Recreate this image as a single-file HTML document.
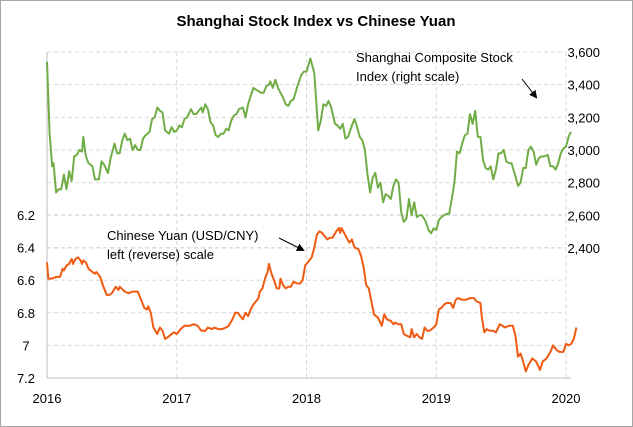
<!DOCTYPE html>
<html><head><meta charset="utf-8"><style>
body{margin:0;background:#fff}
svg{display:block;font-family:"Liberation Sans",Calibri,sans-serif}
</style></head><body>
<svg id="chart" width="633" height="427" viewBox="0 0 633 427">
<rect x="0.5" y="0.5" width="632" height="426" fill="#fff" stroke="#a6a6a6"/>
<text x="316" y="26" text-anchor="middle" font-size="15" font-weight="bold" fill="#000">Shanghai Stock Index vs Chinese Yuan</text>
<g id="grid"></g><g id="axes"></g><g id="series"></g>
<text x="356" y="62" font-size="13" fill="#000">Shanghai Composite Stock</text>
<text x="356" y="81" font-size="13" fill="#000">Index (right scale)</text>
<text x="107" y="240" font-size="13" fill="#000">Chinese Yuan (USD/CNY)</text>
<text x="107" y="259" font-size="13" fill="#000">left (reverse) scale</text>
<defs><marker id="ah" markerWidth="8" markerHeight="8" refX="6" refY="4" orient="auto"><path d="M0,0 L8,4 L0,8z" fill="#000"/></marker></defs>
<line x1="522" y1="79" x2="536" y2="97" stroke="#000" stroke-width="1" marker-end="url(#ah)"/>
<line x1="279" y1="238" x2="303" y2="250" stroke="#000" stroke-width="1" marker-end="url(#ah)"/>
</svg>
<script>
const xTicks=[2016,2017,2018,2019,2020];
const leftTicks=[6.2,6.4,6.6,6.8,7,7.2];
const leftTickLabels=["6.2","6.4","6.6","6.8","7","7.2"];
const rightTicks=[2400,2600,2800,3000,3200,3400,3600];
const rightTickLabels=["2,400","2,600","2,800","3,000","3,200","3,400","3,600"];
const stockT=[2016.00,2016.02,2016.04,2016.05,2016.07,2016.09,2016.11,2016.13,2016.15,2016.17,2016.19,2016.21,2016.23,2016.25,2016.27,2016.28,2016.30,2016.32,2016.35,2016.37,2016.40,2016.42,2016.44,2016.47,2016.49,2016.52,2016.54,2016.56,2016.58,2016.60,2016.62,2016.64,2016.66,2016.68,2016.70,2016.72,2016.74,2016.76,2016.79,2016.81,2016.83,2016.85,2016.87,2016.89,2016.91,2016.94,2016.96,2016.98,2017.00,2017.02,2017.04,2017.06,2017.08,2017.11,2017.13,2017.15,2017.17,2017.19,2017.20,2017.22,2017.24,2017.26,2017.28,2017.30,2017.32,2017.34,2017.36,2017.38,2017.40,2017.42,2017.44,2017.46,2017.48,2017.51,2017.53,2017.55,2017.57,2017.59,2017.61,2017.63,2017.65,2017.67,2017.69,2017.71,2017.72,2017.74,2017.76,2017.78,2017.80,2017.82,2017.84,2017.86,2017.88,2017.90,2017.93,2017.96,2017.98,2018.00,2018.03,2018.06,2018.09,2018.11,2018.13,2018.15,2018.17,2018.19,2018.22,2018.24,2018.26,2018.28,2018.30,2018.32,2018.35,2018.37,2018.39,2018.41,2018.43,2018.45,2018.47,2018.49,2018.51,2018.53,2018.55,2018.57,2018.59,2018.61,2018.63,2018.65,2018.67,2018.69,2018.71,2018.73,2018.75,2018.77,2018.79,2018.81,2018.83,2018.85,2018.87,2018.89,2018.92,2018.94,2018.96,2018.98,2019.00,2019.02,2019.04,2019.06,2019.08,2019.10,2019.12,2019.14,2019.16,2019.18,2019.20,2019.22,2019.24,2019.26,2019.28,2019.30,2019.32,2019.34,2019.36,2019.38,2019.40,2019.42,2019.44,2019.46,2019.48,2019.50,2019.52,2019.54,2019.56,2019.58,2019.61,2019.63,2019.65,2019.67,2019.69,2019.71,2019.73,2019.75,2019.77,2019.79,2019.81,2019.83,2019.86,2019.88,2019.90,2019.92,2019.94,2019.96,2019.98,2020.00,2020.02,2020.03,2020.04];
const stockV=[3540,3100,2900,2920,2740,2760,2760,2850,2760,2870,2810,2960,2970,3000,2990,3080,2960,2920,2900,2820,2820,2930,2910,2860,2950,3040,2980,2980,3060,3100,3060,3070,3000,3030,3000,3000,3070,3090,3110,3190,3200,3260,3240,3230,3120,3100,3140,3110,3120,3150,3140,3190,3200,3250,3220,3220,3240,3260,3230,3280,3250,3170,3150,3090,3080,3100,3100,3130,3120,3180,3210,3220,3250,3260,3200,3280,3330,3380,3370,3360,3350,3350,3390,3400,3420,3380,3430,3380,3350,3320,3280,3270,3300,3310,3390,3460,3480,3480,3560,3470,3120,3180,3280,3270,3300,3260,3160,3150,3130,3160,3070,3080,3150,3190,3140,3080,3060,3000,2850,2740,2830,2860,2770,2800,2680,2730,2720,2700,2780,2820,2800,2620,2560,2580,2700,2600,2680,2590,2600,2600,2560,2510,2490,2520,2510,2570,2590,2600,2610,2610,2700,2800,2990,2980,3040,3090,3100,3220,3160,3240,3080,3080,2940,2890,2880,2900,2820,2880,2980,2980,3000,2930,2920,2920,2840,2780,2800,2890,2890,3000,3020,2990,2910,2950,2960,2960,2970,2900,2900,2880,2920,2980,3010,3020,3080,3100,3110];
const yuanT=[2016.00,2016.01,2016.04,2016.07,2016.10,2016.12,2016.13,2016.15,2016.17,2016.19,2016.20,2016.22,2016.24,2016.26,2016.27,2016.28,2016.30,2016.32,2016.35,2016.37,2016.38,2016.41,2016.43,2016.46,2016.48,2016.50,2016.53,2016.55,2016.56,2016.60,2016.63,2016.66,2016.68,2016.70,2016.73,2016.75,2016.77,2016.78,2016.80,2016.82,2016.85,2016.87,2016.89,2016.91,2016.93,2016.96,2016.98,2017.00,2017.03,2017.06,2017.08,2017.10,2017.13,2017.16,2017.19,2017.22,2017.24,2017.27,2017.29,2017.32,2017.35,2017.38,2017.40,2017.43,2017.45,2017.47,2017.49,2017.51,2017.53,2017.55,2017.57,2017.59,2017.61,2017.63,2017.64,2017.66,2017.68,2017.70,2017.71,2017.73,2017.75,2017.77,2017.79,2017.80,2017.82,2017.84,2017.86,2017.88,2017.90,2017.93,2017.95,2017.97,2017.99,2018.02,2018.04,2018.06,2018.08,2018.10,2018.12,2018.14,2018.16,2018.18,2018.20,2018.23,2018.25,2018.26,2018.27,2018.29,2018.31,2018.33,2018.35,2018.37,2018.40,2018.42,2018.44,2018.46,2018.48,2018.50,2018.52,2018.55,2018.57,2018.58,2018.60,2018.62,2018.65,2018.67,2018.68,2018.71,2018.73,2018.75,2018.77,2018.80,2018.81,2018.83,2018.85,2018.87,2018.89,2018.91,2018.93,2018.95,2018.98,2019.00,2019.02,2019.04,2019.06,2019.08,2019.11,2019.13,2019.15,2019.17,2019.20,2019.23,2019.26,2019.29,2019.31,2019.34,2019.35,2019.37,2019.39,2019.41,2019.44,2019.46,2019.49,2019.51,2019.53,2019.56,2019.59,2019.61,2019.63,2019.65,2019.67,2019.69,2019.71,2019.74,2019.77,2019.80,2019.82,2019.85,2019.88,2019.90,2019.93,2019.95,2019.98,2020.00,2020.02,2020.04,2020.06,2020.08];
const yuanV=[6.49,6.59,6.59,6.58,6.58,6.53,6.54,6.51,6.50,6.47,6.50,6.47,6.46,6.48,6.50,6.48,6.49,6.53,6.55,6.56,6.55,6.58,6.63,6.69,6.69,6.68,6.64,6.66,6.64,6.67,6.68,6.67,6.67,6.67,6.73,6.77,6.78,6.76,6.80,6.89,6.93,6.89,6.91,6.96,6.95,6.93,6.92,6.93,6.90,6.88,6.88,6.88,6.87,6.88,6.91,6.91,6.89,6.90,6.89,6.90,6.90,6.89,6.88,6.84,6.80,6.80,6.82,6.84,6.80,6.82,6.78,6.75,6.73,6.71,6.67,6.65,6.59,6.55,6.50,6.56,6.60,6.65,6.65,6.59,6.63,6.65,6.64,6.64,6.61,6.62,6.62,6.60,6.51,6.48,6.46,6.40,6.32,6.30,6.31,6.33,6.35,6.34,6.34,6.30,6.28,6.31,6.28,6.31,6.34,6.37,6.35,6.40,6.41,6.45,6.52,6.63,6.65,6.73,6.81,6.83,6.86,6.88,6.81,6.84,6.85,6.87,6.86,6.87,6.87,6.93,6.94,6.95,6.90,6.95,6.93,6.95,6.96,6.89,6.91,6.91,6.89,6.87,6.78,6.77,6.75,6.74,6.74,6.77,6.72,6.71,6.72,6.72,6.71,6.71,6.73,6.74,6.82,6.92,6.90,6.91,6.91,6.92,6.87,6.88,6.89,6.88,6.88,6.94,7.07,7.05,7.10,7.16,7.12,7.08,7.10,7.15,7.10,7.08,7.04,7.00,7.03,7.04,7.04,6.99,7.00,6.99,6.96,6.89];
const NS="http://www.w3.org/2000/svg";
const X0=47,X1=566,YT=52,YB=378;
function xs(t){return X0+(t-2016)/4*(X1-X0);}
function yl(v){return 215+(v-6.2)/1.0*(YB-215);}
function yr(v){return YT+(3600-v)/1200*(248-YT);}
function mk(tag,attrs,parent){const e=document.createElementNS(NS,tag);for(const k in attrs)e.setAttribute(k,attrs[k]);parent.appendChild(e);return e;}
const grid=document.getElementById('grid'),axes=document.getElementById('axes'),ser=document.getElementById('series');
rightTicks.forEach((v,i)=>{
 const g=mk('line',{x1:X0,x2:X1,y1:yr(v),y2:yr(v),stroke:'#d9d9d9','stroke-dasharray':'4,3'},grid);
 
 
 const t=mk('text',{x:600,y:yr(v)+5,'text-anchor':'end','font-size':13,fill:'#000'},axes);
 t.textContent=rightTickLabels[i];
 
 
});
leftTicks.forEach((v,i)=>{
 const g=mk('line',{x1:X0,x2:X1,y1:yl(v),y2:yl(v),stroke:'#d9d9d9','stroke-dasharray':'4,3'},grid);
 
 
 const t=mk('text',{x:26,y:yl(v)+5,'text-anchor':'middle','font-size':13,fill:'#000'},axes);
 t.textContent=leftTickLabels[i];
 
 
});
xTicks.forEach(v=>{
 const g=mk('line',{x1:xs(v),x2:xs(v),y1:YT,y2:YB,stroke:'#d9d9d9','stroke-dasharray':'4,3'},grid);
 
 
 const t=mk('text',{x:xs(v),y:403,'text-anchor':'middle','font-size':13,fill:'#000'},axes);
 t.textContent=String(v);
 
 
});
const ax=mk('line',{x1:X0,x2:X0,y1:YT,y2:YB,stroke:'#bfbfbf'},axes);


const bx=mk('line',{x1:X0,x2:X1+5,y1:YB,y2:YB,stroke:'#bfbfbf'},axes);


const sp=mk('polyline',{points:stockT.map((t,i)=>xs(t).toFixed(1)+','+yr(stockV[i]).toFixed(1)).join(' '),fill:'none',stroke:'#70ad47','stroke-width':2,'stroke-linejoin':'round'},ser);


const yp=mk('polyline',{points:yuanT.map((t,i)=>xs(t).toFixed(1)+','+yl(yuanV[i]).toFixed(1)).join(' '),fill:'none',stroke:'#f05a12','stroke-width':2,'stroke-linejoin':'round'},ser);


</script>
</body></html>
